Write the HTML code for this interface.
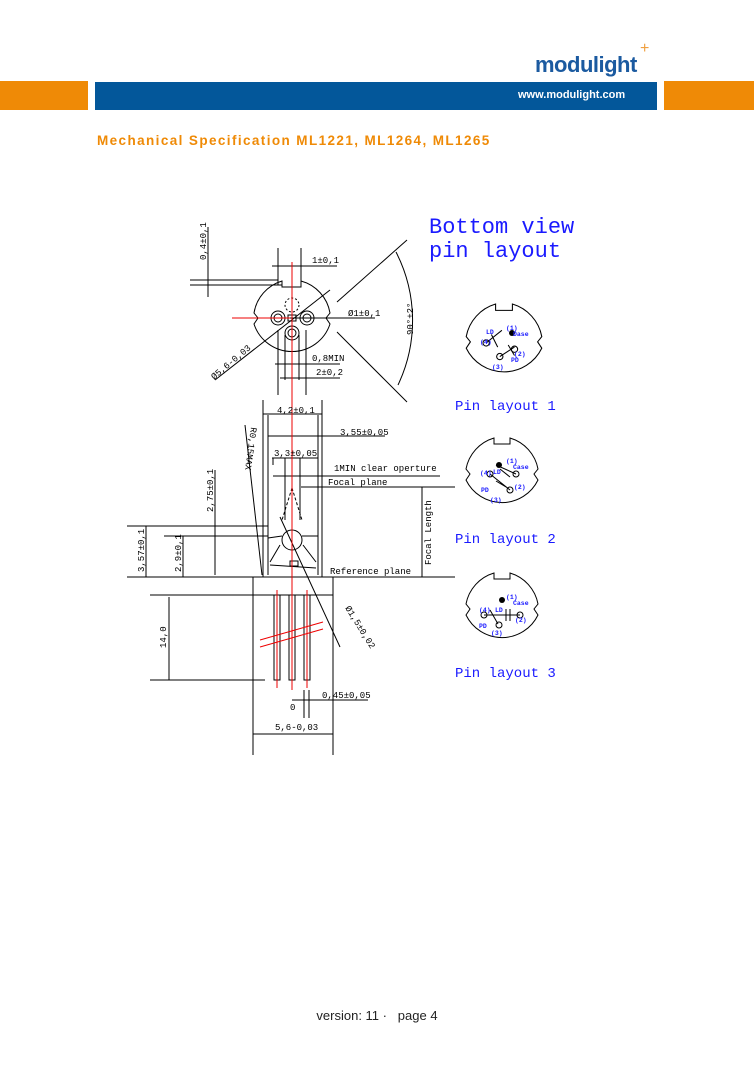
<!DOCTYPE html>
<html><head><meta charset="utf-8"><style>
html,body{margin:0;padding:0;background:#fff;}
body{width:754px;height:1065px;position:relative;overflow:hidden;font-family:"Liberation Sans",sans-serif;}
.a{position:absolute;}
</style></head><body>
<div class="a" style="left:0;top:81px;width:88px;height:29px;background:#ef8a06"></div>
<div class="a" style="left:95px;top:82px;width:562px;height:28px;background:#03579a"></div>
<div class="a" style="left:664px;top:81px;width:90px;height:29px;background:#ef8a06"></div>
<div class="a" style="left:535px;top:52px;font-size:22px;font-weight:bold;color:#1b5aa0;letter-spacing:-0.5px">modulight</div>
<div class="a" style="left:640px;top:40px;color:#f0a040;font-size:16px">+</div>
<div class="a" style="left:518px;top:89px;font-size:11px;font-weight:bold;color:#fff">www.modulight.com</div>
<div class="a" style="left:97px;top:133px;font-size:13.5px;font-weight:bold;color:#ef8a06;letter-spacing:1.4px">Mechanical Specification ML1221, ML1264, ML1265</div>
<div class="a" style="left:0;top:1008px;width:754px;text-align:center;font-size:13px;color:#222">version: 11 ·&nbsp;&nbsp; page 4</div>

<svg class="a" style="left:0;top:0" width="754" height="1065" viewBox="0 0 754 1065" font-family="Liberation Mono, monospace">
<g stroke="#000" stroke-width="1" fill="none">
<path d="M282,281 L282,287 L301,287 L301,281 A40,40 0 0 1 330,313 L326,318 L330,324 A40,40 0 0 1 254,324 L258,318 L254,313 A40,40 0 0 1 282,281Z"/>
<circle cx="278" cy="318" r="7"/><circle cx="278" cy="318" r="4"/>
<circle cx="307" cy="318" r="7"/><circle cx="307" cy="318" r="4"/>
<circle cx="292" cy="333" r="7"/><circle cx="292" cy="333" r="4"/>
<circle cx="292" cy="305" r="7" stroke-dasharray="2,2"/>
<rect x="288" y="315" width="8" height="6"/>
<line x1="190" y1="280" x2="278" y2="280"/><line x1="190" y1="285" x2="282" y2="285"/>
<line x1="208" y1="227" x2="208" y2="297"/>
<line x1="278" y1="248" x2="278" y2="285"/><line x1="301" y1="248" x2="301" y2="285"/>
<line x1="272" y1="266" x2="337" y2="266"/>
<line x1="290" y1="318" x2="375" y2="318"/>
<line x1="215" y1="380" x2="330" y2="290"/>
<line x1="278" y1="330" x2="278" y2="395"/><line x1="306" y1="330" x2="306" y2="395"/>
<line x1="285" y1="335" x2="285" y2="380"/><line x1="299" y1="335" x2="299" y2="380"/>
<line x1="275" y1="364" x2="340" y2="364"/>
<line x1="280" y1="378" x2="340" y2="378"/>
<line x1="337" y1="302" x2="407" y2="240"/><line x1="337" y1="332" x2="407" y2="402"/>
<path d="M396,252 A150,150 0 0 1 398,385"/>
<line x1="263" y1="400" x2="263" y2="577"/><line x1="322" y1="400" x2="322" y2="577"/>
<line x1="268" y1="415" x2="268" y2="575"/><line x1="318" y1="415" x2="318" y2="575"/>
<line x1="263" y1="414" x2="322" y2="414"/>
<line x1="268" y1="436" x2="385" y2="436"/>
<line x1="272" y1="458" x2="318" y2="458"/>
<line x1="273" y1="458" x2="273" y2="465"/><line x1="285" y1="458" x2="285" y2="520"/><line x1="300" y1="458" x2="300" y2="520"/>
<line x1="273" y1="476" x2="440" y2="476"/>
<line x1="301" y1="487" x2="455" y2="487"/>
<circle cx="292" cy="540" r="10"/>
<path d="M268,538 L282,536 M302,536 L318,536 M270,562 L280,545 M303,545 L316,562 M270,565 L316,568" />
<path d="M292,488 L282,520 M292,488 L302,520" stroke-dasharray="3,2"/>
<rect x="290" y="561" width="8" height="5"/>
<line x1="245" y1="425" x2="262" y2="575"/>
<line x1="280" y1="517" x2="340" y2="647"/>
<line x1="127" y1="526" x2="268" y2="526"/><line x1="164" y1="536" x2="268" y2="536"/>
<line x1="215" y1="470" x2="215" y2="575"/>
<line x1="146" y1="526" x2="146" y2="577"/><line x1="183" y1="536" x2="183" y2="577"/>
<line x1="127" y1="577" x2="258" y2="577"/>
<line x1="333" y1="577" x2="455" y2="577"/>
<line x1="422" y1="487" x2="422" y2="577"/>
<rect x="253" y="577" width="80" height="18"/>
<line x1="150" y1="595" x2="253" y2="595"/>
<line x1="253" y1="595" x2="253" y2="755"/><line x1="333" y1="595" x2="333" y2="755"/>
<line x1="169" y1="597" x2="169" y2="680"/>
<line x1="150" y1="680" x2="265" y2="680"/>
<rect x="274" y="595" width="6" height="85"/><rect x="289" y="595" width="6" height="85"/><rect x="304" y="595" width="6" height="85"/>
<line x1="304" y1="690" x2="304" y2="718"/><line x1="309" y1="690" x2="309" y2="718"/>
<line x1="292" y1="700" x2="368" y2="700"/>
<line x1="253" y1="734" x2="333" y2="734"/>
<g transform="translate(504,345) scale(1.05)">
<path d="M-8,-39 L-8,-33 L8,-33 L8,-39 A40,40 0 0 1 36,-8 L32,-3 L36,3 A40,40 0 0 1 -36,3 L-32,-3 L-36,-8 A40,40 0 0 1 -8,-39Z"/>
<circle cx="-17" cy="-2" r="3"/><circle cx="10" cy="4" r="3"/><circle cx="-4" cy="11" r="3"/>
<path d="M-17,-2 L-2,-14 M-4,11 L10,2 M-12,-10 L-6,2 M4,0 L10,10"/>
</g>
<g transform="translate(502,477)">
<path d="M-8,-39 L-8,-33 L8,-33 L8,-39 A40,40 0 0 1 36,-8 L32,-3 L36,3 A40,40 0 0 1 -36,3 L-32,-3 L-36,-8 A40,40 0 0 1 -8,-39Z"/>
<circle cx="-12" cy="-3" r="3"/><circle cx="14" cy="-3" r="3"/><circle cx="8" cy="13" r="3"/>
<path d="M-6,-12 L14,-3 M-12,-3 L8,13 M-2,-8 L8,0 M-6,4 L4,10"/>
</g>
<g transform="translate(502,612)">
<path d="M-8,-39 L-8,-33 L8,-33 L8,-39 A40,40 0 0 1 36,-8 L32,-3 L36,3 A40,40 0 0 1 -36,3 L-32,-3 L-36,-8 A40,40 0 0 1 -8,-39Z"/>
<circle cx="-18" cy="3" r="3"/><circle cx="18" cy="3" r="3"/><circle cx="-3" cy="13" r="3"/>
<path d="M-18,3 L18,3 M4,-3 L4,9 M8,-3 L8,9 M-12,-2 L-4,12"/>
</g>
</g>
<g fill="#000"><circle cx="512" cy="333" r="3"/><circle cx="499" cy="465" r="3"/><circle cx="502" cy="600" r="3"/></g>
<g stroke="#e00" stroke-width="1" fill="none">
<line x1="292" y1="262" x2="292" y2="690"/>
<line x1="232" y1="318" x2="290" y2="318"/>
<line x1="277" y1="590" x2="277" y2="688"/><line x1="292" y1="590" x2="292" y2="688"/><line x1="307" y1="590" x2="307" y2="688"/>
<line x1="260" y1="640" x2="323" y2="622"/><line x1="260" y1="647" x2="323" y2="629"/>
</g>
<g font-size="9" fill="#000">
<text x="312" y="263">1±0,1</text>
<text x="348" y="316">Ø1±0,1</text>
<text x="312" y="361">0,8MIN</text>
<text x="316" y="375">2±0,2</text>
<text x="277" y="413">4,2±0,1</text>
<text x="340" y="435">3,55±0,05</text>
<text x="274" y="456">3,3±0,05</text>
<text x="334" y="471">1MIN clear operture</text>
<text x="328" y="485">Focal plane</text>
<text x="330" y="574">Reference plane</text>
<text x="290" y="710">0</text>
<text x="322" y="698">0,45±0,05</text>
<text x="275" y="730">5,6-0,03</text>
<text transform="translate(206,260) rotate(-90)">0,4±0,1</text>
<text transform="translate(413,335) rotate(-90)">90°±2°</text>
<text transform="translate(213,512) rotate(-90)">2,75±0,1</text>
<text transform="translate(144,572) rotate(-90)">3,57±0,1</text>
<text transform="translate(181,572) rotate(-90)">2,9±0,1</text>
<text transform="translate(166,648) rotate(-90)">14,0</text>
<text transform="translate(431,565) rotate(-90)">Focal Length</text>
<text transform="translate(214,380) rotate(-40)">Ø5,6-0,03</text>
<text transform="translate(251,427) rotate(98)">R0,15MAX</text>
<text transform="translate(345,608) rotate(58)">Ø1,5±0,02</text>
</g>
<g fill="#1a1aff" font-size="22">
<text x="429" y="233">Bottom view</text>
<text x="429" y="257">pin layout</text>
</g>
<g fill="#1a1aff" font-size="14">
<text x="455" y="410">Pin layout 1</text>
<text x="455" y="543">Pin layout 2</text>
<text x="455" y="677">Pin layout 3</text>
</g>
<g fill="#1a1aff" font-size="6.5" font-weight="bold">
<text x="486" y="334">LD</text><text x="506" y="330">(1)</text><text x="513" y="336">Dase</text>
<text x="480" y="344">(4)</text><text x="514" y="356">(2)</text><text x="511" y="362">PD</text><text x="492" y="369">(3)</text>
<text x="506" y="463">(1)</text><text x="513" y="469">Case</text><text x="493" y="474">LD</text><text x="480" y="475">(4)</text>
<text x="481" y="492">PD</text><text x="514" y="489">(2)</text><text x="490" y="502">(3)</text>
<text x="506" y="599">(1)</text><text x="513" y="605">Case</text><text x="479" y="612">(4)</text><text x="495" y="612">LD</text>
<text x="479" y="628">PD</text><text x="515" y="622">(2)</text><text x="491" y="635">(3)</text>
</g>
</svg>
</body></html>
